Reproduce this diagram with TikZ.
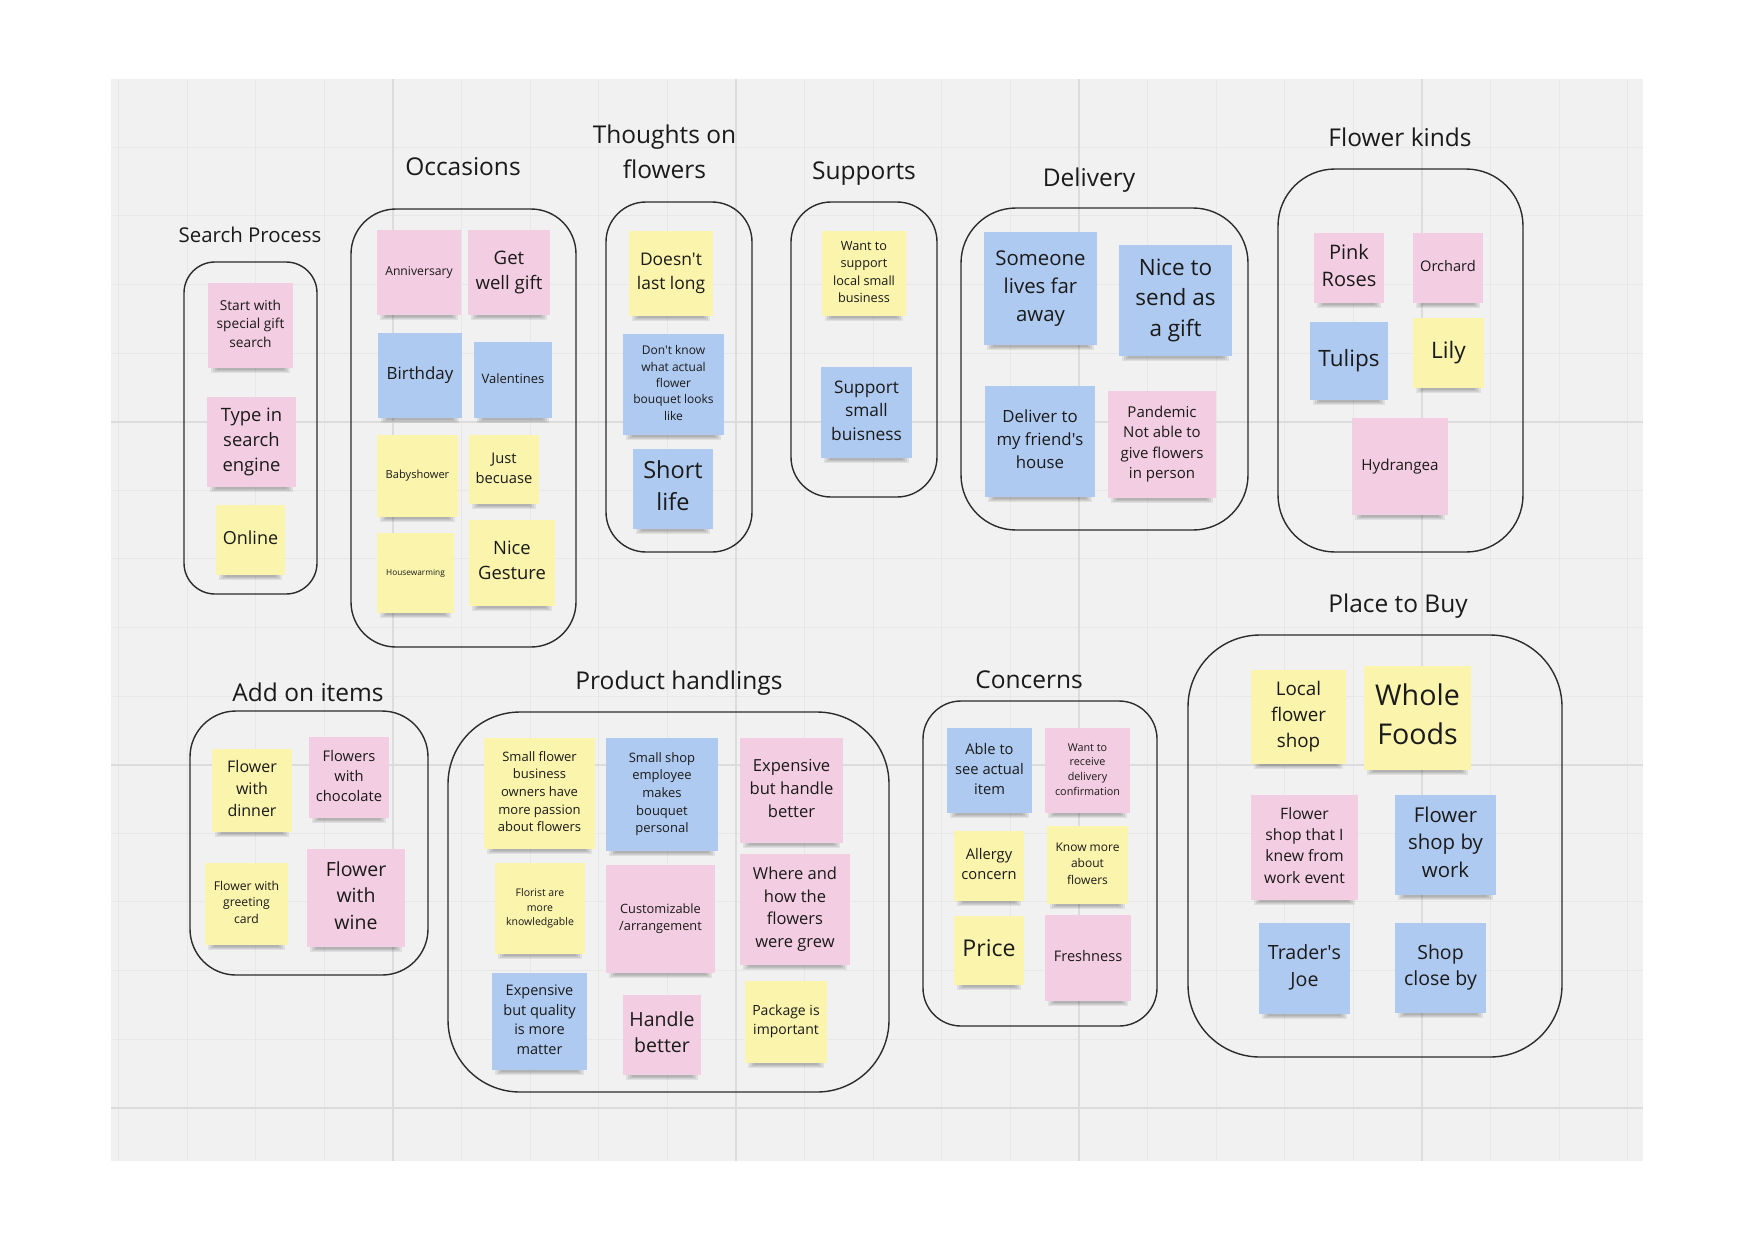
\documentclass[tikz,border=0pt]{standalone}
\usepackage{fontspec}
\setmainfont{Open Sans}
\definecolor{pinkn}{HTML}{F3CDE1}
\definecolor{bluen}{HTML}{AFCAF0}
\definecolor{yellown}{HTML}{FAF4AC}
\definecolor{bgc}{HTML}{F1F1F1}
\definecolor{gridminor}{HTML}{E7E7E7}
\definecolor{gridmajor}{HTML}{DCDCDC}
\definecolor{inkc}{HTML}{1A1A1A}
\tikzset{
 notebox/.style={rectangle, inner sep=0pt, align=center, text=inkc},
 grpbox/.style={draw=inkc!92, line width=1.4pt, rectangle, inner sep=0pt},
 titletxt/.style={text=inkc, inner sep=0pt, align=center, font=\fontsize{24.5}{35}\selectfont},
 gridmin/.style={draw=gridminor, line width=1pt},
 gridmaj/.style={draw=gridmajor, line width=1.6pt},
}
\newcommand\notestrut{\rule[-0.42em]{0pt}{1.32em}}
\newcommand\apos{\textquotesingle}
% name x1 y1 x2 y2 color size text
\newcommand\note[8]{%
 \pgfmathsetmacro\notebls{1.36*#7}%
 \pgfmathsetmacro\notew{#4-#2}%
 \pgfmathsetmacro\noteh{#5-#3}%
 \pgfmathsetmacro\notecx{(#2+#4)/2}%
 \pgfmathsetmacro\notecy{(#3+#5)/2}%
 \foreach \k in {0,1,2,3}{\fill[black,opacity=0.07] ({#2+3+2*\k},{#5-1}) rectangle ({#4-3-2*\k},{#5+5-\k});}%
 \node[notebox, fill=#6, minimum width=\notew pt, minimum height=\noteh pt, font=\fontsize{#7}{\notebls}\selectfont] (#1) at (\notecx,\notecy) {\notestrut#8\notestrut};%
}
% name x1 y1 x2 y2 radius
\newcommand\grp[6]{%
 \pgfmathsetmacro\grpw{#4-#2}%
 \pgfmathsetmacro\grph{#5-#3}%
 \pgfmathsetmacro\grpcx{(#2+#4)/2}%
 \pgfmathsetmacro\grpcy{(#3+#5)/2}%
 \node[grpbox, rounded corners=#6pt, minimum width=\grpw pt, minimum height=\grph pt] (#1) at (\grpcx,\grpcy) {};%
}
\begin{document}
\begin{tikzpicture}[x=1pt,y=-1pt]
\useasboundingbox (0,0) rectangle (1753,1240);
\fill[white] (0,0) rectangle (1753,1240);
\fill[bgc] (111,79) rectangle (1643,1161);
\foreach \i in {0,...,22}{\draw[gridmin] ({118.6+68.6*\i},79) -- ({118.6+68.6*\i},1161);}
\foreach \i in {0,...,14}{\draw[gridmin] (111,{147.3+68.6*\i}) -- (1643,{147.3+68.6*\i});}
\foreach \xx in {393,736,1079,1422}{\draw[gridmaj] (\xx,79) -- (\xx,1161);}
\foreach \yy in {421.7,764.7,1107.7}{\draw[gridmaj] (111,\yy) -- (1643,\yy);}

% groups
\grp{gsearch}{184}{262}{317}{594}{31}
\grp{gocc}{351}{209}{576}{647}{45}
\grp{gthought}{606}{202}{752}{552}{40}
\grp{gsupport}{791}{202}{937}{497}{40}
\grp{gdelivery}{961}{208}{1248}{530}{55}
\grp{gkinds}{1278}{169}{1523}{552}{57}
\grp{gaddon}{190}{711}{428}{975}{46}
\grp{gproduct}{448}{712}{889}{1092}{72}
\grp{gconcern}{923}{701}{1157}{1026}{38}
\grp{gplace}{1188}{635}{1562}{1057}{72}

% titles
\node[titletxt, anchor=base, font=\fontsize{20.4}{28}\selectfont] (tsearch) at (250,242) {Search Process};
\node[titletxt, anchor=base] (tocc) at (463,175) {Occasions};
\node[titletxt] (tthought) at (664.5,152) {Thoughts on\\flowers};
\node[titletxt, anchor=base] (tsupport) at (864,179) {Supports};
\node[titletxt, anchor=base] (tdelivery) at (1089,186) {Delivery};
\node[titletxt, anchor=base] (tkinds) at (1400,146) {Flower kinds};
\node[titletxt, anchor=base] (taddon) at (308,701) {Add on items};
\node[titletxt, anchor=base] (tproduct) at (679,689) {Product handlings};
\node[titletxt, anchor=base] (tconcern) at (1029,688) {Concerns};
\node[titletxt, anchor=base] (tplace) at (1398,612) {Place to Buy};

% Search Process
\note{sp1}{208}{283}{293}{368}{pinkn}{13.7}{Start with\\special gift\\search}
\note{sp2}{207}{397}{296}{487}{pinkn}{18.4}{Type in\\search\\engine}
\note{sp3}{216}{505}{285}{575}{yellown}{18}{Online}

% Occasions
\note{oc1}{377}{230}{461}{315}{pinkn}{12.2}{Anniversary}
\note{oc2}{468}{230}{550}{315}{pinkn}{18.6}{Get\\well gift}
\note{oc3}{378}{333}{462}{418}{bluen}{16.9}{Birthday}
\note{oc4}{474}{342}{552}{418}{bluen}{13}{Valentines}
\note{oc5}{377}{435}{458}{517}{yellown}{11.1}{Babyshower}
\note{oc6}{469}{435}{539}{504}{yellown}{14.7}{Just\\becuase}
\note{oc7}{377}{533}{454}{613}{yellown}{8.3}{Housewarming}
\note{oc8}{469}{520}{555}{606}{yellown}{18.4}{Nice\\Gesture}

% Thoughts on flowers
\note{th1}{629}{231}{713}{316}{yellown}{17.4}{Doesn\apos t\\last long}
\note{th2}{623}{334}{724}{435}{bluen}{12}{Don\apos t know\\what actual\\flower\\bouquet looks\\like}
\note{th3}{633}{449}{713}{529}{bluen}{23.5}{Short\\life}

% Supports
\note{su1}{822}{231}{906}{316}{yellown}{12.7}{Want to\\support\\local small\\business}
\note{su2}{821}{367}{912}{458}{bluen}{17.3}{Support\\small\\buisness}

% Delivery
\note{de1}{984}{232}{1097}{345}{bluen}{20.4}{Someone\\lives far\\away}
\note{de2}{1119}{245}{1232}{356}{bluen}{22.5}{Nice to\\send as\\a gift}
\note{de3}{985}{386}{1095}{497}{bluen}{16.8}{Deliver to\\my friend\apos s\\house}
\note{de4}{1108}{391}{1216}{498}{pinkn}{15}{Pandemic\\Not able to\\give flowers\\in person}

% Flower kinds
\note{fk1}{1314}{233}{1384}{303}{pinkn}{20}{Pink\\Roses}
\note{fk2}{1413}{233}{1483}{303}{pinkn}{14.6}{Orchard}
\note{fk3}{1310}{322}{1388}{400}{bluen}{22.5}{Tulips}
\note{fk4}{1413}{318}{1484}{388}{yellown}{22.7}{Lily}
\note{fk5}{1352}{418}{1448}{515}{pinkn}{15.2}{Hydrangea}

% Add on items
\note{ad1}{212}{749}{292}{832}{yellown}{16}{Flower\\with\\dinner}
\note{ad2}{309}{737}{389}{818}{pinkn}{14.7}{Flowers\\with\\chocolate}
\note{ad3}{205}{863}{288}{945}{yellown}{12.2}{Flower with\\greeting\\card}
\note{ad4}{307}{849}{405}{947}{pinkn}{19.5}{Flower\\with\\wine}

% Product handlings
\note{ph1}{484}{738}{595}{849}{yellown}{13}{Small flower\\business\\owners have\\more passion\\about flowers}
\note{ph2}{606}{738}{718}{851}{bluen}{13}{Small shop\\employee\\makes\\bouquet\\personal}
\note{ph3}{740}{738}{843}{843}{pinkn}{16.6}{Expensive\\but handle\\better}
\note{ph4}{495}{863}{585}{954}{yellown}{10.5}{Florist are\\more\\knowledgable}
\note{ph5}{606}{865}{715}{973}{pinkn}{12.8}{Customizable\\/arrangement}
\note{ph6}{740}{854}{850}{965}{pinkn}{16.5}{Where and\\how the\\flowers\\were grew}
\note{ph7}{492}{973}{587}{1070}{bluen}{14.5}{Expensive\\but quality\\is more\\matter}
\note{ph8}{623}{995}{701}{1075}{pinkn}{19.5}{Handle\\better}
\note{ph9}{745}{981}{827}{1063}{yellown}{14}{Package is\\important}

% Concerns
\note{co1}{947}{728}{1032}{813}{bluen}{14.7}{Able to\\see actual\\item}
\note{co2}{1045}{728}{1130}{813}{pinkn}{10.8}{Want to\\receive\\delivery\\confirmation}
\note{co3}{954}{831}{1024}{901}{yellown}{14.7}{Allergy\\concern}
\note{co4}{1047}{826}{1128}{904}{yellown}{12}{Know more\\about\\flowers}
\note{co5}{954}{916}{1024}{985}{yellown}{23.1}{Price}
\note{co6}{1045}{915}{1131}{1001}{pinkn}{14.6}{Freshness}

% Place to Buy
\note{pb1}{1251}{670}{1346}{764}{yellown}{18.8}{Local\\flower\\shop}
\note{pb2}{1364}{666}{1471}{770}{yellown}{28.6}{Whole\\Foods}
\note{pb3}{1251}{795}{1358}{900}{pinkn}{15.7}{Flower\\shop that I\\knew from\\work event}
\note{pb4}{1395}{795}{1496}{895}{bluen}{20.4}{Flower\\shop by\\work}
\note{pb5}{1259}{923}{1350}{1014}{bluen}{19.6}{Trader\apos s\\Joe}
\note{pb6}{1395}{923}{1486}{1013}{bluen}{19.5}{Shop\\close by}
\end{tikzpicture}
\end{document}
